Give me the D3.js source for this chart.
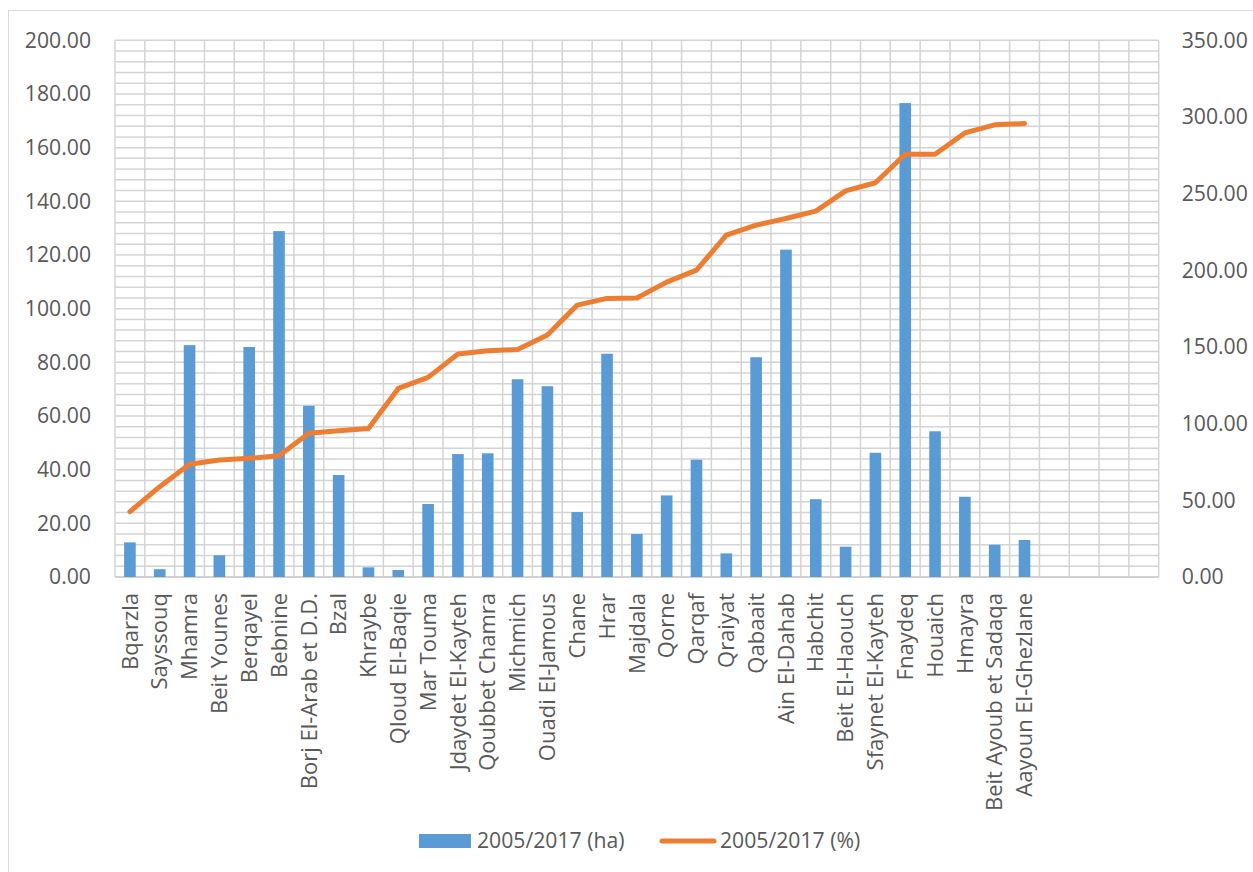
<!DOCTYPE html>
<html>
<head>
<meta charset="utf-8">
<script src="https://cdn.jsdelivr.net/npm/d3@7/dist/d3.min.js"></script>
<style>
html,body{margin:0;padding:0;background:#fff;}
svg{display:block;font-family:"Open Sans",sans-serif;}
</style>
</head>
<body>
<svg id="chart" width="1253" height="872"></svg>
<script>
const categories = ["Bqarzla","Sayssouq","Mhamra","Beit Younes","Berqayel","Bebnine","Borj El-Arab et D.D.","Bzal","Khraybe","Qloud El-Baqie","Mar Touma","Jdaydet El-Kayteh","Qoubbet Chamra","Michmich","Ouadi El-Jamous","Chane","Hrar","Majdala","Qorne","Qarqaf","Qraiyat","Qabaait","Ain El-Dahab","Habchit","Beit El-Haouch","Sfaynet El-Kayteh","Fnaydeq","Houaich","Hmayra","Beit Ayoub et Sadaqa","Aayoun El-Ghezlane"];
const emptySlots = 4;
const haValues = [12.9,2.9,86.4,8.1,85.7,128.9,63.8,38.0,3.6,2.6,27.2,45.8,46.1,73.7,71.1,24.2,83.2,16.0,30.4,43.7,8.8,81.9,122.0,29.0,11.3,46.3,176.6,54.3,29.9,12.0,13.8];
const pctValues = [42.6,58.9,73.5,76.3,77.4,79.1,93.7,95.4,96.9,123.0,130.2,145.4,147.5,148.4,157.8,177.3,181.7,182.0,192.3,200.1,222.9,229.5,233.8,238.6,251.8,257.1,275.7,275.7,289.6,294.9,295.7];
const leftTicks = [0,20,40,60,80,100,120,140,160,180,200];
const rightTicks = [0,50,100,150,200,250,300,350];
const seriesNames = ["2005/2017 (ha)","2005/2017 (%)"];

const svg = d3.select("#chart");
const W = 1253, H = 872;
const m = {left:115, right:W-1158.7, top:40.3, bottom:H-577};
const pw = W - m.left - m.right, ph = H - m.top - m.bottom;
const FS = "21.2px";

// outer border
svg.append("rect").attr("x",8.5).attr("y",10.5).attr("width",1300).attr("height",900)
  .attr("fill","none").attr("stroke","#d9d9d9").attr("stroke-width",1);

const g = svg.append("g").attr("transform",`translate(${m.left},${m.top})`);

const slots = d3.range(categories.length + emptySlots);
const x = d3.scaleBand().domain(slots).range([0,pw]).paddingInner(0).paddingOuter(0);
const yL = d3.scaleLinear().domain([0,200]).range([ph,0]);
const yR = d3.scaleLinear().domain([0,350]).range([ph,0]);

// horizontal gridlines (minor every 4)
const hGrid = d3.range(0,201,4);
g.append("g").selectAll("line").data(hGrid).join("line")
  .attr("x1",0).attr("x2",pw).attr("y1",d=>yL(d)).attr("y2",d=>yL(d))
  .attr("stroke","#d4d4d4").attr("stroke-width",1.5);
// vertical gridlines at category boundaries
const vGrid = d3.range(slots.length+1);
g.append("g").selectAll("line").data(vGrid).join("line")
  .attr("x1",d=>d*x.step()).attr("x2",d=>d*x.step()).attr("y1",0).attr("y2",ph)
  .attr("stroke","#d4d4d4").attr("stroke-width",1.5);
// x axis baseline
g.append("line").attr("x1",0).attr("x2",pw).attr("y1",ph).attr("y2",ph)
  .attr("stroke","#cccccc").attr("stroke-width",1.6);

// bars
const bw = x.step()*0.39;
g.append("g").selectAll("rect").data(haValues).join("rect")
  .attr("x",(d,i)=>x(i)+x.bandwidth()/2-bw/2)
  .attr("width",bw)
  .attr("y",d=>yL(d))
  .attr("height",d=>yL(0)-yL(d))
  .attr("fill","#5B9BD5");

// line
const line = d3.line().x((d,i)=>x(i)+x.bandwidth()/2).y(d=>yR(d));
g.append("path").datum(pctValues).attr("d",line)
  .attr("fill","none").attr("stroke","#ED7D31").attr("stroke-width",5)
  .attr("stroke-linejoin","round").attr("stroke-linecap","round");

// left axis
const fmt = d3.format(".2f");
const axL = d3.axisLeft(yL).tickValues(leftTicks).tickFormat(fmt).tickSize(0).tickPadding(24);
const gL = g.append("g").call(axL);
gL.select(".domain").remove();
gL.selectAll("text").attr("fill","#595959").style("font-size",FS).style("font-family","'Open Sans',sans-serif");

// right axis
const axR = d3.axisRight(yR).tickValues(rightTicks).tickFormat(fmt).tickSize(0).tickPadding(23);
const gR = g.append("g").attr("transform",`translate(${pw},0)`).call(axR);
gR.select(".domain").remove();
gR.selectAll("text").attr("fill","#595959").style("font-size",FS).style("font-family","'Open Sans',sans-serif");

// category labels
g.append("g").selectAll("text").data(categories).join("text")
  .attr("transform",(d,i)=>`translate(${x(i)+x.bandwidth()/2},${ph+16}) rotate(-90)`)
  .attr("text-anchor","end").attr("dy","0.35em")
  .attr("fill","#595959").style("font-size","22px")
  .text(d=>d);

// legend
const lg = svg.append("g");
lg.append("rect").attr("x",419).attr("y",834).attr("width",52).attr("height",14).attr("fill","#5B9BD5");
lg.append("text").attr("x",477).attr("y",841).attr("dy","0.35em").attr("fill","#595959").style("font-size",FS).text(seriesNames[0]);
lg.append("line").attr("x1",662).attr("x2",714).attr("y1",841).attr("y2",841)
  .attr("stroke","#ED7D31").attr("stroke-width",5).attr("stroke-linecap","round");
lg.append("text").attr("x",720).attr("y",841).attr("dy","0.35em").attr("fill","#595959").style("font-size",FS).text(seriesNames[1]);
</script>
</body>
</html>
